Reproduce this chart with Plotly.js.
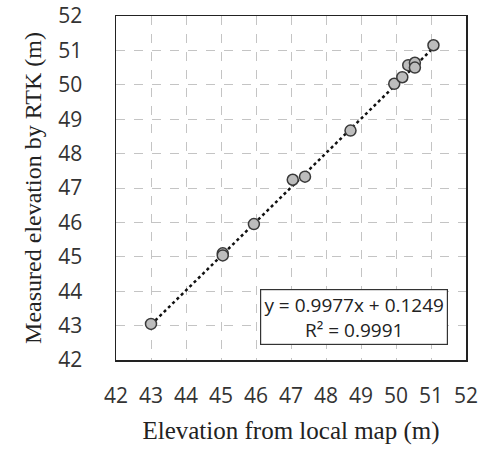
<!DOCTYPE html>
<html>
<head>
<meta charset="utf-8">
<script src="https://cdn.plot.ly/plotly-3.0.1.min.js"></script>
<style>html,body{margin:0;padding:0;background:#fff;}#chart{width:480px;height:449px;}</style>
</head>
<body>
<div id="chart"></div>
<script>
var mapElevation = [43.0, 45.05, 45.05, 45.94, 47.05, 47.4, 48.7, 49.95, 50.18, 50.35, 50.54, 50.54, 51.07];
var rtkElevation = [43.05, 45.1, 45.04, 45.95, 47.24, 47.33, 48.67, 50.03, 50.22, 50.57, 50.64, 50.5, 51.15];
var slope = 0.9977, intercept = 0.1249, r2 = 0.9991;
var tickVals = [42, 43, 44, 45, 46, 47, 48, 49, 50, 51, 52];

var xMin = Math.min.apply(null, mapElevation), xMax = Math.max.apply(null, mapElevation);
var trend = {
  x: [xMin, xMax],
  y: [slope * xMin + intercept, slope * xMax + intercept],
  mode: 'lines', type: 'scatter', hoverinfo: 'skip',
  line: {color: '#111', width: 2.5, dash: 'dot'}
};
var pts = {
  x: mapElevation, y: rtkElevation, mode: 'markers', type: 'scatter',
  marker: {size: 11, color: '#bdbdbd', line: {color: '#3a3a3a', width: 1.5}}
};
var axisCommon = {
  range: [42, 52], tickvals: tickVals, showgrid: true, gridcolor: '#c4c4c4', griddash: 'dash', gridwidth: 1,
  zeroline: false, showline: true, linecolor: '#222', linewidth: 1.5, mirror: true,
  ticks: 'outside', tickcolor: 'rgba(0,0,0,0)',
  tickfont: {family: 'Open Sans', size: 21, color: '#333'}
};
var layout = {
  width: 480, height: 449,
  margin: {l: 116, r: 14, t: 16, b: 89},
  showlegend: false,
  paper_bgcolor: '#fff', plot_bgcolor: '#fff',
  xaxis: Object.assign({}, axisCommon, {ticklen: 16,
    title: {text: 'Elevation from local map (m)', standoff: 14, font: {family: 'Liberation Serif', size: 25, color: '#222'}}}),
  yaxis: Object.assign({}, axisCommon, {ticklen: 28,
    title: {text: 'Measured elevation by RTK (m)', standoff: 10, font: {family: 'Liberation Serif', size: 24, color: '#222'}}}),
  annotations: [{
    xref: 'paper', yref: 'paper', x: 0.68, y: 0.125, xanchor: 'center', yanchor: 'middle',
    text: 'y = ' + slope + 'x + ' + intercept + '<br>R² = ' + r2,
    showarrow: false, align: 'center', width: 182, height: 50,
    font: {family: 'Open Sans', size: 19, color: '#222'},
    bgcolor: '#fff', bordercolor: '#333', borderwidth: 1.2, borderpad: 2
  }]
};
Plotly.newPlot('chart', [trend, pts], layout, {displayModeBar: false, staticPlot: true});
</script>
</body>
</html>
